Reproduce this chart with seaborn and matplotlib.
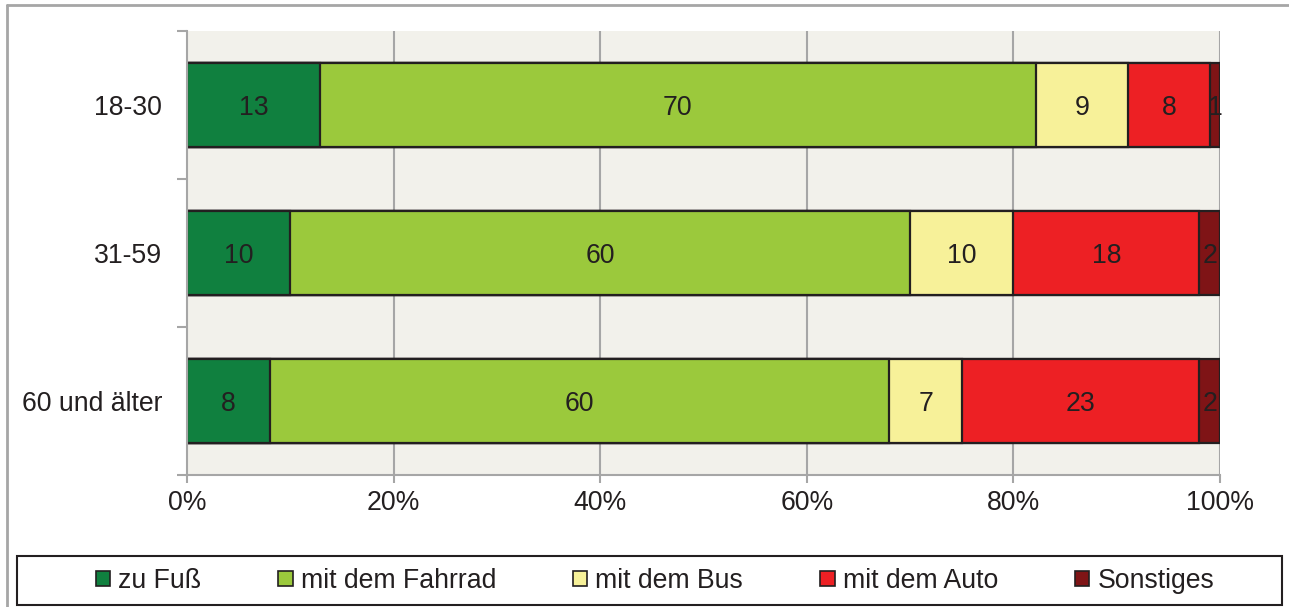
import numpy as np
import pandas as pd
import seaborn as sns
import matplotlib
matplotlib.use("Agg")
import matplotlib.pyplot as plt
from matplotlib.patches import Patch, Rectangle
from matplotlib.lines import Line2D

# ---- data ----
groups = ["18-30", "31-59", "60 und älter"]
series = ["zu Fuß", "mit dem Fahrrad", "mit dem Bus", "mit dem Auto", "Sonstiges"]
zu_fuss = [13, 10, 8]
fahrrad = [70, 60, 60]
bus = [9, 10, 7]
auto = [8, 18, 23]
sonstiges = [1, 2, 2]
colors = ["#10803F", "#9BC93C", "#F7F199", "#ED2024", "#7F1416"]
xticks = [0, 20, 40, 60, 80, 100]
xticklabels = ["0%", "20%", "40%", "60%", "80%", "100%"]

sns.set_theme(style="white")
plt.rcParams["font.family"] = ["Liberation Sans", "DejaVu Sans"]
TXT = "#231F20"
FS = 19.2

vals = np.array([zu_fuss, fahrrad, bus, auto, sonstiges], dtype=float)  # series x groups
pct = vals / vals.sum(axis=0) * 100
cum = np.cumsum(pct, axis=0)

fig = plt.figure(figsize=(12.89, 6.07), dpi=100)
ax = fig.add_axes([187 / 1289, 132 / 607, 1033 / 1289, 444 / 607])
ax.set_facecolor("#F2F1EB")

# vertical grid lines
for t in xticks[1:]:
    ax.axvline(t, color="#A6A6A6", lw=1.5, zorder=0.5)

# stacked bars: draw cumulative totals from largest to smallest
for k in range(len(series) - 1, -1, -1):
    df = pd.DataFrame({"group": groups, "value": cum[k]})
    sns.barplot(data=df, x="value", y="group", orient="h", color=colors[k],
                saturation=1, width=0.57, edgecolor=TXT, linewidth=1.6,
                ax=ax, zorder=2)

# value labels in segment centres
for k in range(len(series)):
    for j in range(len(groups)):
        centre = cum[k, j] - pct[k, j] / 2
        ax.text(centre, j, f"{int(vals[k, j])}", ha="center", va="center_baseline",
                fontsize=FS, color=TXT, zorder=5)

ax.set_xlim(0, 100)
ax.set_ylim(2.5, -0.5)
ax.set_xlabel("")
ax.set_ylabel("")
ax.set_xticks(xticks)
ax.set_xticklabels(xticklabels, fontsize=FS, color=TXT)
ax.set_yticks(range(len(groups)))
ax.set_yticklabels(groups, fontsize=FS, color=TXT)
ax.set_yticks([-0.5, 0.5, 1.5, 2.5], minor=True)
ax.tick_params(axis="y", which="both", left=True)
ax.tick_params(axis="x", which="both", bottom=True)
ax.tick_params(axis="y", which="major", length=0, pad=18)
ax.tick_params(axis="y", which="minor", length=7, width=1.5, color="#A6A6A6", direction="out")
ax.tick_params(axis="x", which="major", length=6, width=1.5, color="#A6A6A6", direction="out", pad=5)

for s in ["top", "right"]:
    ax.spines[s].set_visible(False)
for s in ["left", "bottom"]:
    ax.spines[s].set_color("#A6A6A6")
    ax.spines[s].set_linewidth(1.5)

# legend
handles = [Patch(facecolor=c, edgecolor=TXT, linewidth=1.2) for c in colors]
fig.legend(handles, series, loc="center", bbox_to_anchor=(655 / 1289, 1 - 581 / 607),
           ncol=5, frameon=False, fontsize=FS, handlelength=0.53, handleheight=0.53,
           handletextpad=0.3, columnspacing=2.9, labelcolor=TXT)
fig.patches.append(Rectangle((17 / 1289, 1 - 605 / 607), (1282 - 17) / 1289, 49 / 607,
                             transform=fig.transFigure, fill=False, edgecolor=TXT, lw=1.5))

# outer frame (top and left)
fig.add_artist(Line2D([7 / 1289, 1], [1 - 5 / 607, 1 - 5 / 607], transform=fig.transFigure,
                      color="#A6A6A6", lw=2))
fig.add_artist(Line2D([7 / 1289, 7 / 1289], [0, 1 - 5 / 607], transform=fig.transFigure,
                      color="#A6A6A6", lw=2))

fig.savefig("out.png", dpi=100, facecolor="white")
